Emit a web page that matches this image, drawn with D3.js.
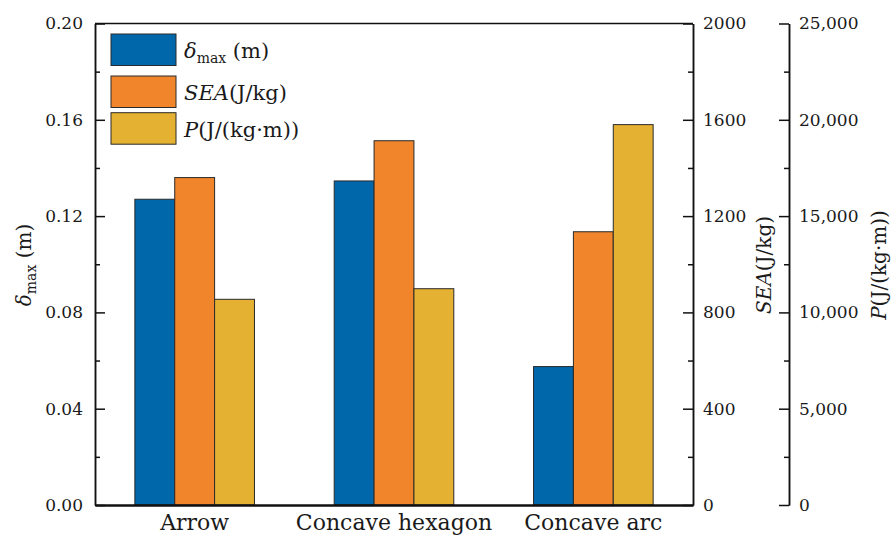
<!DOCTYPE html>
<html>
<head>
<meta charset="utf-8">
<script src="https://cdn.jsdelivr.net/npm/d3@7"></script>
<style>
  body { margin: 0; background: #fff; }
  text { font-family: "DejaVu Serif", "Liberation Serif", serif; fill: #1a1a1a; }
</style>
</head>
<body>
<svg id="chart" width="896" height="540"></svg>
<script>
// Structure types and their three measured quantities
const categories = ["Arrow", "Concave hexagon", "Concave arc"];
const deltaMax = [0.127, 0.1346, 0.0575];     // m
const seaValues = [1360, 1513, 1135];          // J/kg
const pValues = [10680, 11230, 19750];         // J/(kg·m)

const leftTicks = [0, 0.04, 0.08, 0.12, 0.16, 0.20];
const seaTicks = [0, 400, 800, 1200, 1600, 2000];
const pTicks = [0, 5000, 10000, 15000, 20000, 25000];

const colors = ["#0067AA", "#F0852C", "#E5B133"];

const svg = d3.select("#chart");
const L = 95, R = 693, T = 23.5, B = 505, R2 = 789;

const x = d3.scaleBand().domain(categories).range([L, R]).padding(0);
const sub = d3.scaleBand().domain([0, 1, 2])
  .range([x.bandwidth() * 0.2, x.bandwidth() * 0.8]).padding(0);

const yD = d3.scaleLinear().domain([0, 0.20]).range([B, T]);
const yS = d3.scaleLinear().domain([0, 2000]).range([B, T]);
const yP = d3.scaleLinear().domain([0, 25000]).range([B, T]);

const series = [
  { values: deltaMax, scale: yD },
  { values: seaValues, scale: yS },
  { values: pValues, scale: yP }
];

// Bars
series.forEach((s, si) => {
  svg.append("g").selectAll("rect")
    .data(categories.map((c, i) => ({ c, v: s.values[i] })))
    .join("rect")
    .attr("x", d => x(d.c) + sub(si))
    .attr("width", sub.bandwidth())
    .attr("y", d => s.scale(d.v))
    .attr("height", d => B - s.scale(d.v))
    .attr("fill", colors[si])
    .attr("stroke", "#2a2a2a")
    .attr("stroke-width", 1);
});

function styleAxis(g) {
  g.select(".domain").attr("stroke", "#111").attr("stroke-width", 1.5);
  g.selectAll(".tick line").attr("stroke", "#111").attr("stroke-width", 1.5);
  g.selectAll("text").style("font-family", "DejaVu Serif, serif").style("font-size", "17px").attr("fill", "#1a1a1a");
}
function minorValues(ticks) {
  const out = [];
  for (let i = 0; i < ticks.length - 1; i++) out.push((ticks[i] + ticks[i + 1]) / 2);
  return out;
}

// Left axis (ticks pointing inward)
const gl = svg.append("g").attr("transform", `translate(${L},0)`)
  .call(d3.axisLeft(yD).tickValues(leftTicks).tickFormat(d3.format(".2f"))
    .tickSizeInner(-10).tickSizeOuter(0).tickPadding(12));
styleAxis(gl);
const glm = svg.append("g").attr("transform", `translate(${L},0)`)
  .call(d3.axisLeft(yD).tickValues(minorValues(leftTicks)).tickFormat("")
    .tickSizeInner(-5).tickSizeOuter(0));
styleAxis(glm);

// Right axis for SEA
const gr = svg.append("g").attr("transform", `translate(${R},0)`)
  .call(d3.axisRight(yS).tickValues(seaTicks).tickFormat(d3.format("d"))
    .tickSizeInner(-10).tickSizeOuter(0).tickPadding(10));
styleAxis(gr);
const grm = svg.append("g").attr("transform", `translate(${R},0)`)
  .call(d3.axisRight(yS).tickValues(minorValues(seaTicks)).tickFormat("")
    .tickSizeInner(-5).tickSizeOuter(0));
styleAxis(grm);

// Offset axis for P
const gp = svg.append("g").attr("transform", `translate(${R2},0)`)
  .call(d3.axisRight(yP).tickValues(pTicks).tickFormat(d3.format(","))
    .tickSizeInner(-10).tickSizeOuter(0).tickPadding(10));
styleAxis(gp);
const gpm = svg.append("g").attr("transform", `translate(${R2},0)`)
  .call(d3.axisRight(yP).tickValues(minorValues(pTicks)).tickFormat("")
    .tickSizeInner(-5).tickSizeOuter(0));
styleAxis(gpm);

// Top frame line and bottom category axis
svg.append("line").attr("x1", L).attr("x2", R).attr("y1", T).attr("y2", T)
  .attr("stroke", "#111").attr("stroke-width", 1.5);
const gb = svg.append("g").attr("transform", `translate(0,${B})`)
  .call(d3.axisBottom(x).tickSize(0).tickPadding(9));
gb.select(".domain").attr("stroke", "#111").attr("stroke-width", 2.5);
gb.selectAll("text").style("font-family", "DejaVu Serif, serif").style("font-size", "22px").attr("fill", "#1a1a1a");

// Axis titles
const t1 = svg.append("text").attr("transform", "translate(31,265) rotate(-90)")
  .attr("text-anchor", "middle").style("font-size", "20px");
t1.append("tspan").text("δ").style("font-style", "italic");
t1.append("tspan").text("max").style("font-size", "14px").attr("dy", 5);
t1.append("tspan").text(" (m)").attr("dy", -5);

const t2 = svg.append("text").attr("transform", "translate(771,265) rotate(-90)")
  .attr("text-anchor", "middle").style("font-size", "20px");
t2.append("tspan").text("SEA").style("font-style", "italic");
t2.append("tspan").text("(J/kg)");

const t3 = svg.append("text").attr("transform", "translate(886,265) rotate(-90)")
  .attr("text-anchor", "middle").style("font-size", "20px");
t3.append("tspan").text("P").style("font-style", "italic");
t3.append("tspan").text("(J/(kg·m))");

// Legend
const legendY = [34, 76, 112.7];
const legend = svg.append("g");
colors.forEach((c, i) => {
  legend.append("rect").attr("x", 111).attr("y", legendY[i])
    .attr("width", 65).attr("height", 31.5)
    .attr("fill", c).attr("stroke", "#2a2a2a").attr("stroke-width", 1);
});
const l1 = legend.append("text").attr("x", 184).attr("y", legendY[0] + 24).style("font-size", "21px");
l1.append("tspan").text("δ").style("font-style", "italic");
l1.append("tspan").text("max").style("font-size", "14px").attr("dy", 5);
l1.append("tspan").text(" (m)").attr("dy", -5);
const l2 = legend.append("text").attr("x", 184).attr("y", legendY[1] + 24).style("font-size", "21px");
l2.append("tspan").text("SEA").style("font-style", "italic");
l2.append("tspan").text("(J/kg)");
const l3 = legend.append("text").attr("x", 184).attr("y", legendY[2] + 24).style("font-size", "21px");
l3.append("tspan").text("P").style("font-style", "italic");
l3.append("tspan").text("(J/(kg·m))");
</script>
</body>
</html>
